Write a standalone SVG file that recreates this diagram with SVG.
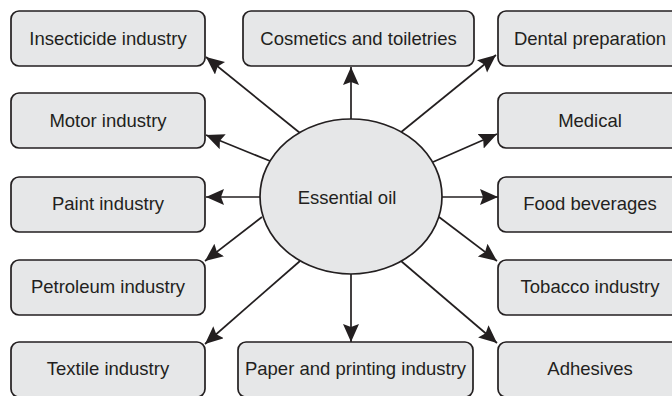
<svg xmlns="http://www.w3.org/2000/svg" width="672" height="396" viewBox="0 0 672 396">
<style>
.box{fill:#e6e7e8;stroke:#231f20;stroke-width:1.7}
.t{font-family:"Liberation Sans",Arial,sans-serif;font-size:18.5px;fill:#231f20;text-anchor:middle}
.c{stroke:#231f20;stroke-width:1.7;fill:none;marker-end:url(#ah)}
</style>
<defs>
<marker id="ah" markerUnits="userSpaceOnUse" markerWidth="22" markerHeight="18" refX="18" refY="8" orient="auto">
<path d="M0,0 L18,8 L0,16 L3,8 Z" fill="#231f20"/>
</marker>
</defs>
<rect width="672" height="396" fill="#fff"/>
<g id="connectors">
<line class="c" x1="300" y1="133" x2="206" y2="57"/>
<line class="c" x1="351" y1="119" x2="351" y2="67"/>
<line class="c" x1="400" y1="133" x2="496" y2="55"/>
<line class="c" x1="270" y1="161" x2="206" y2="135"/>
<line class="c" x1="260" y1="197" x2="206" y2="197"/>
<line class="c" x1="262" y1="217" x2="205" y2="261"/>
<line class="c" x1="300" y1="261" x2="205" y2="344"/>
<line class="c" x1="351" y1="274" x2="351" y2="342"/>
<line class="c" x1="433" y1="162" x2="497" y2="134"/>
<line class="c" x1="442" y1="197" x2="498" y2="197"/>
<line class="c" x1="439" y1="217" x2="497" y2="261"/>
<line class="c" x1="401" y1="261" x2="497" y2="343"/>
</g>
<g id="center">
<ellipse class="box" cx="351" cy="196.5" rx="91" ry="77.5"/>
<text class="t" x="347" y="204">Essential oil</text>
</g>
<g id="insecticide"><rect class="box" x="11" y="11" width="194" height="55" rx="8"/><text class="t" x="108" y="45">Insecticide industry</text></g>
<g id="motor"><rect class="box" x="11" y="93" width="194" height="55" rx="8"/><text class="t" x="108" y="127">Motor industry</text></g>
<g id="paint"><rect class="box" x="11" y="177" width="194" height="55" rx="8"/><text class="t" x="108" y="210">Paint industry</text></g>
<g id="petroleum"><rect class="box" x="11" y="260" width="194" height="55" rx="8"/><text class="t" x="108" y="293">Petroleum industry</text></g>
<g id="textile"><rect class="box" x="11" y="342" width="194" height="55" rx="8"/><text class="t" x="108" y="375">Textile industry</text></g>
<g id="cosmetics"><rect class="box" x="243" y="11" width="231" height="55" rx="8"/><text class="t" x="358.5" y="45">Cosmetics and toiletries</text></g>
<g id="paper"><rect class="box" x="238" y="342" width="235" height="55" rx="8"/><text class="t" x="355.5" y="375">Paper and printing industry</text></g>
<g id="dental"><rect class="box" x="498" y="11" width="190" height="55" rx="8"/><text class="t" x="590" y="45">Dental preparation</text></g>
<g id="medical"><rect class="box" x="498" y="93" width="190" height="55" rx="8"/><text class="t" x="590" y="127">Medical</text></g>
<g id="food"><rect class="box" x="498" y="177" width="190" height="55" rx="8"/><text class="t" x="590" y="210">Food beverages</text></g>
<g id="tobacco"><rect class="box" x="498" y="260" width="190" height="55" rx="8"/><text class="t" x="590" y="293">Tobacco industry</text></g>
<g id="adhesives"><rect class="box" x="498" y="342" width="190" height="55" rx="8"/><text class="t" x="590" y="375">Adhesives</text></g>
</svg>
